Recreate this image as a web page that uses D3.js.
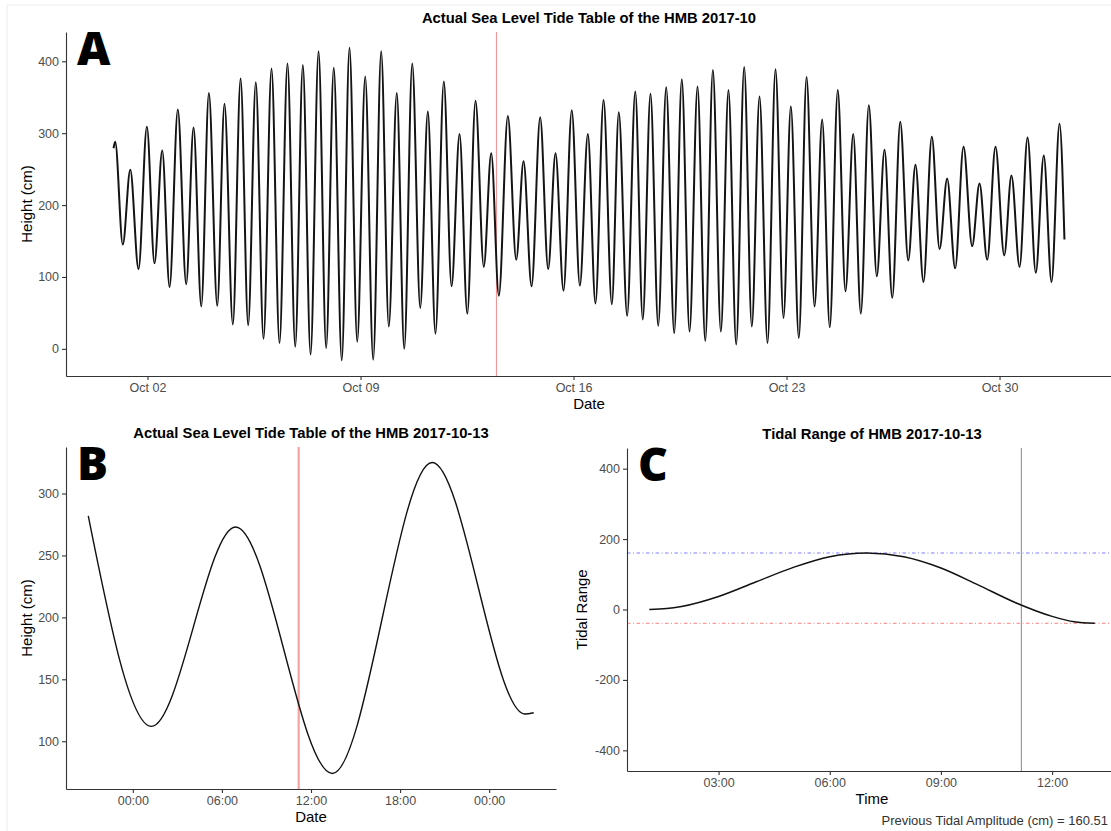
<!DOCTYPE html>
<html>
<head>
<meta charset="utf-8">
<script src="https://cdn.jsdelivr.net/npm/d3@7"></script>
<style>
body { margin: 0; background: #fff; }
svg text { font-family: "Liberation Sans", Arial, sans-serif; }
</style>
</head>
<body>
<div class="container"></div>
<script>
const width = 1111;
const height = 831;

// panel A: high / low water turning points, hours after 2017-10-01 00:00
const monthHours = [-2.8, -1.5, 4.5, 10.4, 16.9, 23.5, 29.5, 35.6, 41.4, 47.9,
    54.5, 60.3, 66.4, 72.4, 79.0, 84.7, 91.3, 97.4, 103.4, 109.4,
    115.5, 121.8, 128.1, 134.4, 140.5, 146.5, 152.6, 158.9, 164.9, 170.9,
    177.2, 183.3, 189.4, 195.7, 202.0, 208.3, 214.3, 220.6, 226.5, 232.8,
    239.1, 245.1, 251.1, 257.7, 263.8, 270.1, 276.2, 282.7, 289.2, 295.1,
    301.1, 308.2, 314.8, 320.6, 326.9, 333.7, 340.0, 345.8, 352.1, 358.6,
    365.0, 371.3, 377.3, 383.7, 390.2, 395.7, 402.3, 408.7, 414.6, 420.7,
    426.8, 433.1, 439.4, 445.4, 451.5, 457.8, 463.9, 469.9, 476.2, 482.2,
    488.3, 494.6, 500.6, 506.7, 513.0, 519.3, 525.6, 531.4, 537.7, 543.8,
    550.1, 556.1, 562.1, 568.4, 574.5, 580.6, 586.6, 592.9, 599.2, 605.3,
    611.4, 617.7, 624.0, 629.7, 636.0, 642.6, 648.7, 654.7, 661.0, 667.6,
    674.4, 680.2, 686.3, 692.8, 699.7, 705.4, 711.8, 718.1, 724.6, 730.9,
    737.0, 743.3, 747.2];
const monthHeights = [279, 288, 145, 249, 111, 309, 119, 276, 86, 333,
    90, 308, 59, 356, 60, 341, 34, 376, 33, 371,
    14, 390, 8, 397, 3, 395, -8, 414, 1, 391,
    -16, 419, 10, 379, -15, 414, 31, 356, 0, 397,
    57, 330, 21, 372, 87, 299, 49, 345, 114, 272,
    74, 324, 124, 261, 87, 322, 111, 272, 81, 332,
    88, 299, 63, 346, 62, 329, 46, 358, 41, 355,
    32, 364, 22, 375, 24, 365, 11, 388, 24, 360,
    6, 392, 31, 351, 8, 389, 43, 337, 15, 378,
    59, 319, 30, 360, 80, 299, 49, 339, 101, 277,
    71, 316, 123, 256, 93, 295, 139, 237, 112, 281,
    143, 230, 124, 281, 130, 241, 114, 294, 106, 269,
    93, 313, 152];

// panel B: 2017-10-13, hours after midnight
const dayHours = [-3.0, 1.25, 6.92, 13.44, 20.16, 26.4, 27.0];
const dayHeights = [282, 112, 273, 74, 325, 122, 123];

// panel C: tidal range since the 01:08 low water
const rangeHours = [1.13, 1.6, 2, 3, 4, 5, 6, 7, 8, 9, 10, 11, 12, 12.6, 13.15];
const rangeValues = [0, 2.5, 8.6, 37, 78, 119, 150, 160.51, 150, 118, 70, 20, -19.5, -35, -39.3];

const markerHour = 11.17;       // current time on 2017-10-13
const prevAmplitude = 160.51;
const rangeLow = -39.3;
const rangeLimit = 417;

const monthStart = Date.UTC(2017, 9, 1);
const dayStart = Date.UTC(2017, 9, 13);
const toDate = (base, h) => new Date(base + h * 3600e3);

const svg = d3.select('.container')
    .append('svg')
    .attr('width', width)
    .attr('height', height);

// faint frame of the original screenshot
svg.append('path')
    .attr('d', 'M7,831V5H1111')
    .attr('fill', 'none')
    .attr('stroke', '#ececec');

function padded(extent) {
    const lo = +extent[0], hi = +extent[1];
    const p = (hi - lo) * 0.05;
    return [lo - p, hi + p];
}

function styleAxis(g) {
    g.select('.domain').attr('stroke', '#333').attr('stroke-width', 1.1);
    g.selectAll('.tick line').attr('stroke', '#333').attr('stroke-width', 1.1);
    g.selectAll('.tick text').attr('fill', '#4d4d4d').style('font-size', '12.5px');
}

function panel(box, xaxis, yaxis, title, xlab, ylab, letter) {
    const g = svg.append('g');
    g.append('g')
        .attr('transform', `translate(0,${box.bottom})`)
        .call(xaxis.tickSize(4).tickPadding(3).tickSizeOuter(0))
        .call(styleAxis);
    g.append('g')
        .attr('transform', `translate(${box.left},0)`)
        .call(yaxis.tickSize(4).tickPadding(3).tickSizeOuter(0).tickFormat(d => String(d)))
        .call(styleAxis);
    const cx = (box.left + box.right) / 2;
    g.append('text')
        .attr('x', cx).attr('y', box.top - 9)
        .attr('text-anchor', 'middle')
        .style('font-size', '14.8px').style('font-weight', 'bold')
        .text(title);
    g.append('text')
        .attr('x', cx).attr('y', box.bottom + 33)
        .attr('text-anchor', 'middle')
        .style('font-size', '15px')
        .text(xlab);
    g.append('text')
        .attr('transform', `translate(${box.left - box.ylabOffset},${(box.top + box.bottom) / 2}) rotate(-90)`)
        .attr('text-anchor', 'middle')
        .style('font-size', '15px')
        .text(ylab);
    g.append('text')
        .attr('x', box.left + 11).attr('y', box.top + 33)
        .style('font-family', '"Open Sans", "Liberation Sans", sans-serif')
        .style('font-size', '46px').style('font-weight', 800)
        .text(letter);
    return g;
}

// ---- A: whole month
const boxA = { left: 66, right: 1112, top: 32, bottom: 376, ylabOffset: 34 };
const monthData = monthHours.map((h, i) => ({ t: toDate(monthStart, h), v: monthHeights[i] }));
const xA = d3.scaleUtc().domain(padded(d3.extent(monthData, d => d.t))).range([boxA.left, boxA.right]);
const yA = d3.scaleLinear().domain(padded(d3.extent(monthHeights))).range([boxA.bottom, boxA.top]);
const gA = panel(boxA,
    d3.axisBottom(xA).ticks(d3.utcMonday.every(1)).tickFormat(d3.utcFormat('%b %d')),
    d3.axisLeft(yA).ticks(5),
    'Actual Sea Level Tide Table of the HMB 2017-10', 'Date', 'Height (cm)', 'A');

gA.append('line')
    .attr('x1', xA(toDate(dayStart, markerHour))).attr('x2', xA(toDate(dayStart, markerHour)))
    .attr('y1', boxA.top).attr('y2', boxA.bottom)
    .attr('stroke', '#f28b8b').attr('stroke-width', 1);

gA.append('path')
    .datum(monthData)
    .attr('fill', 'none')
    .attr('stroke', '#141414')
    .attr('stroke-width', 2)
    .attr('d', d3.line().x(d => xA(d.t)).y(d => yA(d.v)).curve(d3.curveMonotoneX));

// ---- B: one day
const boxB = { left: 66, right: 556, top: 447, bottom: 789, ylabOffset: 34 };
const dayData = dayHours.map((h, i) => ({ t: toDate(dayStart, h), v: dayHeights[i] }));
const xB = d3.scaleUtc().domain(padded(d3.extent(dayData, d => d.t))).range([boxB.left, boxB.right]);
const yB = d3.scaleLinear().domain(padded(d3.extent(dayHeights))).range([boxB.bottom, boxB.top]);
const gB = panel(boxB,
    d3.axisBottom(xB).ticks(d3.utcHour.every(6)).tickFormat(d3.utcFormat('%H:%M')),
    d3.axisLeft(yB).ticks(5),
    'Actual Sea Level Tide Table of the HMB 2017-10-13', 'Date', 'Height (cm)', 'B');

gB.append('line')
    .attr('x1', xB(toDate(dayStart, markerHour))).attr('x2', xB(toDate(dayStart, markerHour)))
    .attr('y1', boxB.top).attr('y2', boxB.bottom)
    .attr('stroke', '#f4a3a3').attr('stroke-width', 2.2);

gB.append('path')
    .datum(dayData)
    .attr('fill', 'none')
    .attr('stroke', '#111')
    .attr('stroke-width', 1.4)
    .attr('d', d3.line().x(d => xB(d.t)).y(d => yB(d.v)).curve(d3.curveMonotoneX));

// ---- C: tidal range
const boxC = { left: 627, right: 1117, top: 448, bottom: 771, ylabOffset: 40 };
const rangeData = rangeHours.map((h, i) => ({ t: toDate(dayStart, h), v: rangeValues[i] }));
const xC = d3.scaleUtc().domain(padded(d3.extent(rangeData, d => d.t))).range([boxC.left, boxC.right]);
const yC = d3.scaleLinear().domain(padded([-rangeLimit, rangeLimit])).range([boxC.bottom, boxC.top]);
const gC = panel(boxC,
    d3.axisBottom(xC).ticks(d3.utcHour.every(3)).tickFormat(d3.utcFormat('%H:%M')),
    d3.axisLeft(yC).ticks(5),
    'Tidal Range of HMB 2017-10-13', 'Time', 'Tidal Range', 'C');

[[prevAmplitude, 'rgba(0,0,255,0.5)'], [rangeLow, 'rgba(255,0,0,0.4)']].forEach(([v, c]) => {
    gC.append('line')
        .attr('x1', boxC.left).attr('x2', boxC.right)
        .attr('y1', yC(v)).attr('y2', yC(v))
        .attr('stroke', c).attr('stroke-width', 1.1)
        .attr('stroke-dasharray', '3.5,2.5,1,2.5');
});

gC.append('line')
    .attr('x1', xC(toDate(dayStart, markerHour))).attr('x2', xC(toDate(dayStart, markerHour)))
    .attr('y1', boxC.top).attr('y2', boxC.bottom)
    .attr('stroke', '#8a8a8a').attr('stroke-width', 1);

gC.append('path')
    .datum(rangeData)
    .attr('fill', 'none')
    .attr('stroke', '#111')
    .attr('stroke-width', 1.5)
    .attr('d', d3.line().x(d => xC(d.t)).y(d => yC(d.v)).curve(d3.curveMonotoneX));

svg.append('text')
    .attr('x', 1108).attr('y', 825)
    .attr('text-anchor', 'end')
    .attr('fill', '#333')
    .style('font-size', '13px')
    .text(`Previous Tidal Amplitude (cm) = ${prevAmplitude}`);
</script>
</body>
</html>
